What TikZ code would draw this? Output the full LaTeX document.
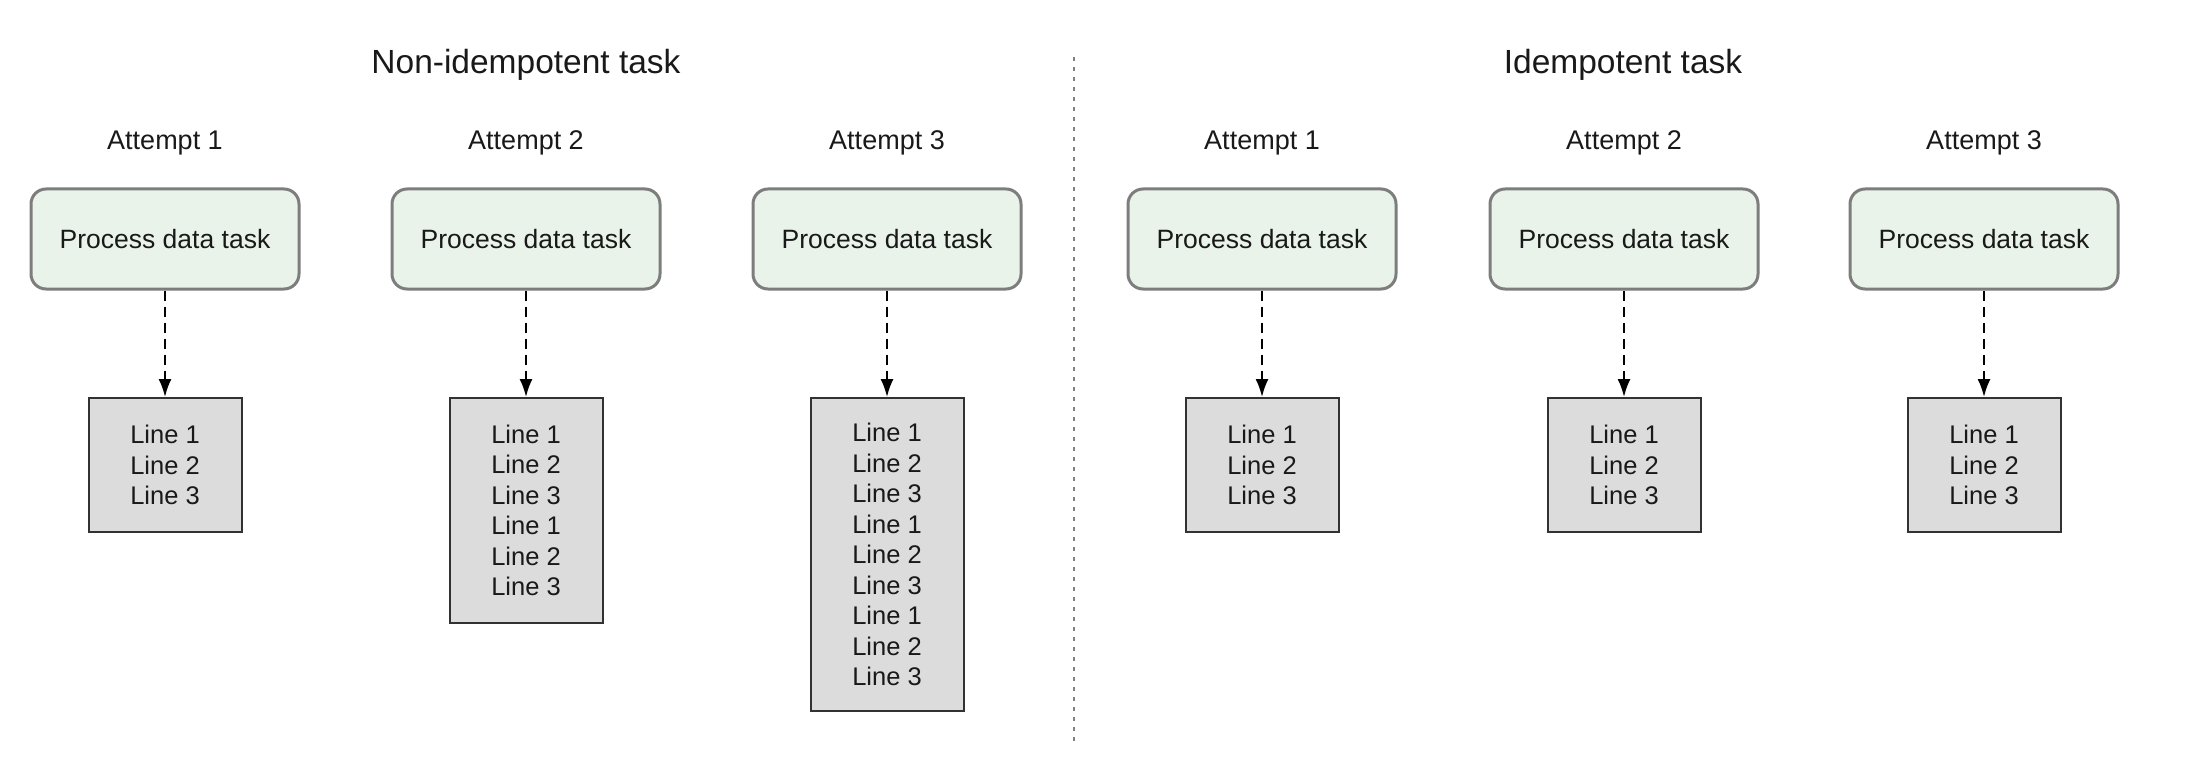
\documentclass[tikz,border=0pt]{standalone}
\usepackage{fontspec}
\setmainfont{Liberation Sans}
\usetikzlibrary{arrows.meta}
\definecolor{greenfill}{RGB}{234,243,234}
\definecolor{greenborder}{RGB}{125,125,125}
\definecolor{grayfill}{RGB}{220,220,220}
\definecolor{grayborder}{RGB}{50,50,50}
\definecolor{txt}{RGB}{25,25,25}
\tikzset{
  title/.style={text=txt, font=\fontsize{33.5}{38}\selectfont},
  attemptlabel/.style={text=txt, font=\fontsize{27}{32}\selectfont},
  taskbox/.style={draw=greenborder, fill=greenfill, line width=3pt, rounded corners=15pt,
    minimum width=268pt, minimum height=100pt, text=txt, font=\fontsize{26.5}{31}\selectfont},
  linebox/.style={draw=grayborder, fill=grayfill, line width=2pt, minimum width=153pt,
    align=center, text=txt, font=\fontsize{25.5}{30.5}\selectfont},
  dasharrow/.style={draw=black, line width=2pt, dash pattern=on 10pt off 6pt,
    -{Latex[length=18pt,width=13pt]}},
  divider/.style={draw=gray, line width=2.5pt, dash pattern=on 4pt off 6pt}
}
\begin{document}
\begin{tikzpicture}[x=1pt,y=-1pt]
\useasboundingbox (0,0) rectangle (2204,770);
% titles
\node[title] (t1) at (526,65) {Non-idempotent task};
\node[title] (t2) at (1623,65) {Idempotent task};
% divider
\coordinate (dtop) at (1074,57);
\coordinate (dbot) at (1074,746);
\draw[divider] (dtop) -- (dbot);
% attempt labels
\node[attemptlabel] (a1) at (165,143) {Attempt 1};
\node[attemptlabel] (a2) at (526,143) {Attempt 2};
\node[attemptlabel] (a3) at (887,143) {Attempt 3};
\node[attemptlabel] (a4) at (1262,143) {Attempt 1};
\node[attemptlabel] (a5) at (1624,143) {Attempt 2};
\node[attemptlabel] (a6) at (1984,143) {Attempt 3};
% task boxes
\node[taskbox] (p1) at (165,239) {Process data task};
\node[taskbox] (p2) at (526,239) {Process data task};
\node[taskbox] (p3) at (887,239) {Process data task};
\node[taskbox] (p4) at (1262,239) {Process data task};
\node[taskbox] (p5) at (1624,239) {Process data task};
\node[taskbox] (p6) at (1984,239) {Process data task};
% output boxes
\node[linebox, minimum height=134pt] (g1) at (165,465) {Line 1\\Line 2\\Line 3};
\node[linebox, minimum height=225pt] (g2) at (526,510.5) {Line 1\\Line 2\\Line 3\\Line 1\\Line 2\\Line 3};
\node[linebox, minimum height=313pt] (g3) at (887,554.5) {Line 1\\Line 2\\Line 3\\Line 1\\Line 2\\Line 3\\Line 1\\Line 2\\Line 3};
\node[linebox, minimum height=134pt] (g4) at (1262,465) {Line 1\\Line 2\\Line 3};
\node[linebox, minimum height=134pt] (g5) at (1624,465) {Line 1\\Line 2\\Line 3};
\node[linebox, minimum height=134pt] (g6) at (1984,465) {Line 1\\Line 2\\Line 3};
% arrows
\foreach \i in {1,...,6} {
  \draw[dasharrow] (p\i.south) -- (g\i.north);
}
\end{tikzpicture}
\end{document}
